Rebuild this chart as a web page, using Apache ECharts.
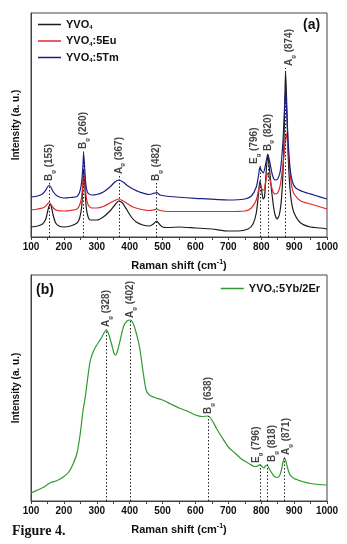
<!DOCTYPE html>
<html>
<head>
<meta charset="utf-8">
<script src="https://cdn.jsdelivr.net/npm/echarts@6/dist/echarts.min.js"></script>
<style>
  html, body { margin: 0; padding: 0; background: #fff; }
  #chart { width: 347px; height: 544px; }
</style>
</head>
<body>
<div id="chart"></div>
<script>
  // (a) Raman spectra  [shift, intensity]
  var yvo4 = [[100,10],[120,11],[135,13],[145,18],[150,25],[155,31],[158,33],[162,30],[168,21],[175,14],[185,11],[200,10],[220,11],[240,14],[248,19],[254,30],[258,52],[260,68],[263,55],[267,33],[272,22],[280,17],[300,17],[320,20],[340,26],[355,32],[367,36],[378,34],[390,28],[405,20],[420,15],[440,12],[460,11],[472,13],[482,16],[490,13],[500,10],[520,9.5],[550,10],[600,9],[650,8],[700,6],[730,6],[760,8],[775,13],[785,24],[792,44],[796,56],[800,50],[806,38],[810,40],[815,65],[820,82],[825,68],[832,45],[840,25],[848,18],[855,22],[862,40],[868,80],[872,140],[874,166],[877,140],[881,90],[886,55],[892,35],[900,24],[920,14],[950,10],[980,9],[1000,8]];
  var yvo4Eu = [[100,27],[120,28],[135,29],[145,31],[150,33],[155,34.5],[160,33],[168,29],[180,26.5],[200,26],[220,26.5],[240,28],[248,32],[254,40],[258,55],[261,64],[264,55],[268,40],[274,32],[285,29],[300,29],[320,30.5],[340,34],[355,36.5],[367,38],[380,36],[395,33],[410,30],[430,28],[460,26.5],[472,27],[482,28],[492,26.5],[520,25.5],[600,25.5],[700,25.5],[750,26],[770,29],[785,37],[792,47],[797,52],[802,48],[808,47],[814,56],[820,64],[826,58],[834,47],[842,43],[850,44],[858,52],[866,72],[872,92],[876,104],[880,94],[886,70],[893,50],[900,43],[920,36],[950,33],[1000,28]];
  var yvo4Tm = [[100,40],[120,41],[135,43],[145,47],[150,50],[155,51.5],[160,50],[168,45],[180,41],[200,39],[220,39.5],[240,40.5],[248,45],[254,55],[258,72],[260,84],[263,70],[267,52],[273,44],[285,42],[300,42.5],[320,45],[340,50],[355,55],[367,57],[380,55],[395,51],[410,48],[430,45],[460,42.5],[472,43.5],[482,44.5],[492,42],[520,40.5],[600,38.7],[700,37],[750,38],[770,41],[785,50],[792,62],[796,70],[800,67],[806,64],[813,72],[820,83],[826,75],[834,62],[842,57],[850,58],[858,66],[866,95],[871,130],[874,147],[877,130],[882,95],[888,68],[895,55],[905,49],[930,45],[960,42],[1000,38]];

  // (b)
  var yvo4YbEr = [[100,8],[120,11],[140,14],[150,16.5],[160,18.5],[180,20.5],[200,24.5],[215,29],[228,37],[240,48],[250,68],[258,90],[265,104],[272,122],[280,140],[290,150],[300,156],[312,162],[322,168],[328,171],[335,168],[345,157],[352,148],[357,146],[363,150],[372,162],[382,175],[392,180],[402,181],[410,178],[420,168],[430,154],[440,131],[450,111],[460,106],[480,103],[500,101],[525,97],[550,93],[575,90],[600,86],[620,84.5],[638,85],[650,81],[665,72],[680,64],[700,54],[720,48],[740,42],[760,38],[780,34.5],[790,35],[796,36.5],[802,34.5],[808,33],[814,35.5],[818,36],[824,32.5],[832,28],[840,24.5],[848,23.5],[856,25.5],[862,32],[867,40],[871,43],[875,40],[880,33],[888,26],[900,22.5],[925,19.5],[950,17.5],[975,16.5],[1000,16]];

  // peak assignments
  var peaksA = [155, 260, 367, 482, 796, 820, 874];
  var modesA = ['B', 'B', 'A', 'B', 'E', 'B', 'A'];
  var labelBaseA = [56, 88, 63, 56, 73, 86, 171];
  var peaksB = [328, 402, 638, 796, 818, 871];
  var modesB = ['A', 'A', 'B', 'E', 'B', 'A'];
  var labelBaseB = [174, 183, 87, 38, 39, 46];

  // horizontal nudge of labels (px)
  var shiftA = [0, 0, 0, 0, -6, 0, 4];
  var shiftB = [0, 0, 0, -4, 5, 2];

  var FONT = '"Liberation Sans", Arial, sans-serif';

  var myChart = echarts.init(document.getElementById('chart'));

  function xAx(idx) {
    return {
      type: 'value', gridIndex: idx, min: 100, max: 1000, interval: 50,
      name: 'Raman shift (cm{sup|-1})', nameLocation: 'middle', nameGap: 22,
      nameTextStyle: {
        fontFamily: FONT, fontWeight: 'bold', fontSize: 11, color: '#111',
        rich: { sup: { fontSize: 7, fontWeight: 'bold', verticalAlign: 'top', padding: [0, 0, 6, 0] } }
      },
      axisLine: { show: true, onZero: false, lineStyle: { color: '#444', width: 1 } },
      axisTick: { show: true, inside: false, length: 3, lineStyle: { color: '#444' } },
      axisLabel: {
        fontFamily: FONT, fontWeight: 'bold', fontSize: 10, color: '#111', margin: 5,
        formatter: function (v) { return v % 100 === 0 ? v : ''; }
      },
      splitLine: { show: false }
    };
  }

  function yAx(idx, max) {
    return {
      type: 'value', gridIndex: idx, min: 0, max: max,
      name: 'Intensity (a. u.)', nameLocation: 'middle', nameGap: 10,
      nameTextStyle: { fontFamily: FONT, fontWeight: 'bold', fontSize: 10, color: '#111' },
      axisLine: { show: true, lineStyle: { color: '#444' } },
      axisTick: { show: false }, axisLabel: { show: false }, splitLine: { show: false }
    };
  }

  function spectrum(name, data, color, idx) {
    return {
      name: name, type: 'line', xAxisIndex: idx, yAxisIndex: idx,
      data: data, symbol: 'none', smooth: 0.25,
      lineStyle: { color: color, width: 1.2 }, itemStyle: { color: color }
    };
  }

  var labelRich = {
    m: { fontFamily: FONT, fontWeight: 'bold', fontSize: 10, color: '#111', lineHeight: 14, verticalAlign: 'middle' },
    s: { fontFamily: FONT, fontWeight: 'bold', fontSize: 6, color: '#111', lineHeight: 14, verticalAlign: 'bottom' }
  };

  function peakLabels(idx, peaks, modes, bases, shifts) {
    var pts = peaks.map(function (p, i) {
      return {
        value: [p, bases[i]],
        label: {
          formatter: '{m|' + modes[i] + '}{s|g}{m| (' + p + ')}',
          offset: [0, shifts[i]]
        }
      };
    });
    var lines = peaks.map(function (p, i) {
      return [{ coord: [p, 0] }, { coord: [p, bases[i] - 2] }];
    });
    return {
      type: 'scatter', xAxisIndex: idx, yAxisIndex: idx, symbolSize: 0,
      data: pts, silent: true,
      label: { show: true, position: 'inside', rotate: 90, align: 'left', verticalAlign: 'middle', rich: labelRich },
      markLine: {
        silent: true, symbol: 'none', animation: false,
        lineStyle: { type: [1.5, 2], color: '#222', width: 1 },
        label: { show: false },
        data: lines
      }
    };
  }

  var legendRich = {
    s: { fontFamily: FONT, fontWeight: 'bold', fontSize: 6, color: '#111', verticalAlign: 'bottom', padding: [6, 0, 0, 0] }
  };
  function legendFmt(n) { return n.replace('YVO4', 'YVO{s|4}'); }

  myChart.setOption({
    animation: false,
    grid: [
      { left: 31, top: 13, width: 296, height: 224, show: true, borderColor: '#444', borderWidth: 1 },
      { left: 31, top: 275, width: 296, height: 226, show: true, borderColor: '#444', borderWidth: 1 }
    ],
    legend: [
      {
        data: ['YVO4', 'YVO4:5Eu', 'YVO4:5Tm'], orient: 'vertical', left: 33, top: 14,
        icon: 'rect', itemWidth: 23, itemHeight: 1.5, itemGap: 5, formatter: legendFmt,
        textStyle: { fontFamily: FONT, fontWeight: 'bold', fontSize: 11, color: '#111', rich: legendRich }
      },
      {
        data: ['YVO4:5Yb/2Er'], orient: 'vertical', right: 22, top: 278,
        icon: 'rect', itemWidth: 23, itemHeight: 1.5, formatter: legendFmt,
        textStyle: { fontFamily: FONT, fontWeight: 'bold', fontSize: 11, color: '#111', rich: legendRich }
      }
    ],
    xAxis: [xAx(0), xAx(1)],
    yAxis: [yAx(0, 224), yAx(1, 226)],
    series: [
      spectrum('YVO4', yvo4, '#1c1c1c', 0),
      spectrum('YVO4:5Eu', yvo4Eu, '#e3262b', 0),
      spectrum('YVO4:5Tm', yvo4Tm, '#1d1d86', 0),
      peakLabels(0, peaksA, modesA, labelBaseA, shiftA),
      spectrum('YVO4:5Yb/2Er', yvo4YbEr, '#2f9a2f', 1),
      peakLabels(1, peaksB, modesB, labelBaseB, shiftB)
    ],
    graphic: [
      { type: 'text', left: 303, top: 18, style: { text: '(a)', font: 'bold 14px ' + FONT, fill: '#111' } },
      { type: 'text', left: 36, top: 283, style: { text: '(b)', font: 'bold 14px ' + FONT, fill: '#111' } },
      { type: 'text', left: 12, top: 524, style: { text: 'Figure 4.', font: 'bold 14px "Liberation Serif", "Times New Roman", serif', fill: '#111' } }
    ]
  });
</script>
</body>
</html>
